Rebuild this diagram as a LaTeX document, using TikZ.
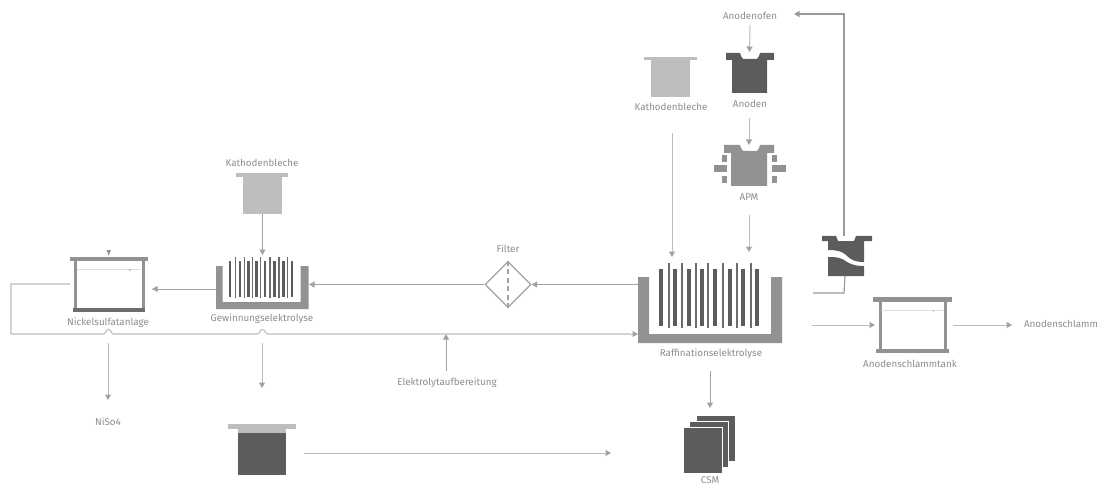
\documentclass[tikz,border=0pt]{standalone}
\usepackage{fontspec}
\setmainfont{Fira Sans}
\usetikzlibrary{arrows.meta,shapes.geometric}
\definecolor{txt}{HTML}{8C8C8E}
\definecolor{ln}{HTML}{A2A2A4}
\definecolor{lnl}{HTML}{BDBDBF}
\definecolor{lnd}{HTML}{9A9A9C}
\definecolor{dk}{HTML}{5C5C5E}
\definecolor{md}{HTML}{929294}
\definecolor{lt}{HTML}{BEBEC0}
\definecolor{wat}{HTML}{DDDDDF}
\tikzset{
  lbl/.style={font=\fontsize{9.8}{11}\selectfont,text=txt,inner sep=0pt},
  flow/.style={draw=ln,line width=1pt,-{Triangle[length=5.5pt,width=6pt]}},
  flowl/.style={draw=lnl,line width=1pt,-{Triangle[length=5.5pt,width=6pt,color=ln]}},
  plain/.style={draw=lnl,line width=1.1pt},
  strong/.style={draw=lnd,line width=1.2pt},
  group/.style args={#1x#2}{inner sep=0pt,outer sep=0pt,draw=none,minimum width=#1,minimum height=#2},
}
\begin{document}
\begin{tikzpicture}[x=1pt,y=-1pt]
\useasboundingbox (0,0) rectangle (1099,486);
% ---------- labels
\node[lbl] (lKath1) at (262,163) {Kathodenbleche};
\node[lbl] (lGew) at (262,319) {Gewinnungselektrolyse};
\node[lbl] (lNick) at (108,323) {Nickelsulfatanlage};
\node[lbl] (lNiso) at (108,422) {NiSo4};
\node[lbl] (lFilter) at (508,249) {Filter};
\node[lbl] (lElek) at (447,383) {Elektrolytaufbereitung};
\node[lbl] (lRaff) at (711,354) {Raffinationselektrolyse};
\node[lbl] (lCsm) at (710,480.5) {CSM};
\node[lbl] (lKath2) at (671,107) {Kathodenbleche};
\node[lbl] (lOfen) at (750,16) {Anodenofen};
\node[lbl] (lAnod) at (750,104) {Anoden};
\node[lbl] (lApm) at (749,197) {APM};
\node[lbl] (lTank) at (910,364) {Anodenschlammtank};
\node[lbl] (lSchl) at (1061,324) {Anodenschlamm};
% ---------- sheet, left Kathodenbleche
\fill[lt] (236,173) rectangle (288,177);
\node[group=39pt x 37pt,fill=lt] (kath1) at (262.5,195.5) {};
% ---------- sheet, top Kathodenbleche
\fill[lt] (644,57) rectangle (697,60);
\node[group=39pt x 37pt,fill=lt] (kath2) at (670.5,78.5) {};
% ---------- Nickelsulfat tank
\node[group=78pt x 55pt] (nick) at (109,284.5) {};
\fill[md] (70,257) rectangle (148,261);
\fill[md] (74,261) rectangle (77,309);
\fill[md] (141.5,261) rectangle (144.7,309);
\fill[dk!70!md] (73,308) rectangle (145,312);
\draw[wat,line width=.7pt] (77,269) -- (141,269);
\fill[wat!70!md] (129,269) rectangle (130.5,270.5);
\fill[md] (106.5,250) -- (111,250) -- (108.7,255.5) -- cycle;
% ---------- Gewinnung tank
\node[group=92.7pt x 43pt,fill=none] (gew) at (262.35,287.5) {};
\fill[md] (216,266) -- (222.7,266) -- (222.7,302) -- (300.7,302) -- (300.7,266) -- (308.7,266) -- (308.7,309) -- (216,309) -- cycle;
\foreach \x in {690,720,745,770,795,823,850,876}
  \fill[dk] ({\x/3-1.2},261) rectangle ({\x/3+1.2},297);
\foreach \x in {706,733,758,782,810,837,863}
  \fill[dk!70!md] ({\x/3-.7},257) rectangle ({\x/3+.7},298);
% ---------- Filter
\node[diamond,aspect=1,draw=ln,line width=1.2pt,inner sep=0pt,minimum width=46pt,minimum height=46pt] (filter) at (508,284.5) {};
\draw[ln,line width=1.2pt,dash pattern=on 5pt off 3.5pt] (filter.north) -- (filter.south);
% ---------- Raffination tank
\node[group=144pt x 66pt] (raff) at (710,310) {};
\fill[md] (638,277) -- (649,277) -- (649,334) -- (771,334) -- (771,277) -- (782,277) -- (782,343) -- (638,343) -- cycle;
\foreach \x in {124,166,206,246,285,329,370,410}
  \fill[dk] ({620+\x/3-1.9},269) rectangle ({620+\x/3+1.9},326);
\foreach \x in {146,187,227,265,310,351,392}
  \fill[dk!70!md] ({620+\x/3-.9},262.5) rectangle ({620+\x/3+.9},328);
% ---------- Anode
\fill[dk] (726,53) -- (740,53) -- (741,56) -- (743,59) -- (757,59) -- (759,56) -- (760,53) -- (774,53) -- (774,60) -- (767,60) -- (767,93) -- (732,93) -- (732,60) -- (726,60) -- cycle;
\node[group=35pt x 33pt] (anode) at (749.5,73) {};
% ---------- APM
\fill[md] (724,145) -- (740,145) -- (741,148) -- (743,151) -- (757,151) -- (759,148) -- (760,145) -- (774,145) -- (774,153) -- (767,153) -- (767,186) -- (731,186) -- (731,153) -- (724,153) -- cycle;
\fill[md] (722,155) rectangle (727,162);
\fill[md] (714,165) rectangle (727,172);
\fill[md] (722,176) rectangle (727,183);
\fill[md] (772,155) rectangle (777,162);
\fill[md] (772,165) rectangle (786,172);
\fill[md] (772,176) rectangle (777,183);
\node[group=36pt x 41pt] (apm) at (749,165.5) {};
% ---------- Furnace with wave
\node[group=36pt x 40pt] (furn) at (845,256) {};
\fill[dk] (822,236) -- (836,236) -- (838,241) -- (854,241) -- (856,236) -- (872,236) -- (872,241) -- (864,241) -- (864,262) .. controls (855,262) and (851,260) .. (846,255) .. controls (842,251) and (836,250) .. (828,250) -- (828,241) -- (822,241) -- cycle;
\fill[dk] (828,257) .. controls (838,257) and (842,258) .. (847,262) .. controls (852,265) and (857,266) .. (864,266) -- (864,276) -- (828,276) -- cycle;
% ---------- Anodenschlammtank
\node[group=74pt x 56pt] (tank) at (912,325) {};
\fill[md] (873,297) rectangle (952,302);
\fill[md] (879,302) rectangle (881.5,350);
\fill[md] (944,302) rectangle (947,350);
\fill[md] (876,349) rectangle (949,353);
\draw[wat,line width=.7pt] (881,310) -- (944,310);
\fill[wat!70!md] (932.5,310) rectangle (934,311.5);
% ---------- bottom sheet
\fill[lt] (228,424) rectangle (296,429);
\fill[lt] (238,429) rectangle (286,433);
\node[group=48pt x 42pt,fill=dk] (sheet) at (262,454) {};
% ---------- CSM stack
\node[group=39pt x 46pt,fill=dk,draw=white,line width=.8pt] (csmC) at (715.5,438) {};
\node[group=39pt x 46pt,fill=dk,draw=white,line width=.8pt] (csmB) at (709,444.5) {};
\node[group=39.5pt x 46pt,fill=dk,draw=white,line width=.8pt] (csmA) at (702.7,450) {};
% ---------- free ends
\coordinate (elekEnd) at (446,334);
\coordinate (nDrop) at (108,343);
\coordinate (gDrop) at (262,343);
\coordinate (nTip) at (108,400);
\coordinate (gTip) at (262,388);
\coordinate (nOut) at (70,284);
\coordinate (slurry) at (813,293);
\coordinate (ofenR) at (794,14);
\coordinate (inTank) at (812,325);
% ---------- connectors
\draw[flow] (kath1.south) -- (262.5,255);
\draw[flow] (216,289) -- (152,289);
\draw[flow] (filter.west) -- (309,284.5);
\draw[flow] (raff.west |- filter.east) -- (filter.east);
\draw[flow] (lElek.north -| elekEnd) ++(0,-7) -- (elekEnd);
\draw[plain] (nOut) -- (11,284) -- (11,334) -- (103.5,334)
  .. controls (106,334) and (105.5,329.5) .. (108.5,329.5) .. controls (111.5,329.5) and (111,334) .. (113.5,334)
  -- (257.5,334)
  .. controls (260,334) and (259.5,329.5) .. (262.5,329.5) .. controls (265.5,329.5) and (265,334) .. (267.5,334)
  -- (630,334);
\draw[flowl] (630,334) -- (raff.west |- 0,334);
\draw[flowl] (nDrop) -- (nTip);
\draw[flowl] (gDrop) -- (gTip);
\draw[flowl] (304,453) -- (611,453);
\draw[flow] (710,371) -- (710,408);
\draw[flowl] (lOfen.south) ++(0,5) -- (anode.north |- 0,52);
\draw[flowl] (749,118) -- (749,145);
\draw[flowl] (672,133) -- (672,257);
\draw[flowl] (749,215) -- (749,252);
\draw[strong] (slurry) -- (844,293) -- (furn.south);
\draw[strong,-{Triangle[length=5.5pt,width=6pt]}] (furn.north) ++(-1,0) -- (844,14) -- (ofenR);
\draw[flowl] (inTank) -- (tank.west);
\draw[flowl] (953,325) -- (1012,325);
\end{tikzpicture}
\end{document}
